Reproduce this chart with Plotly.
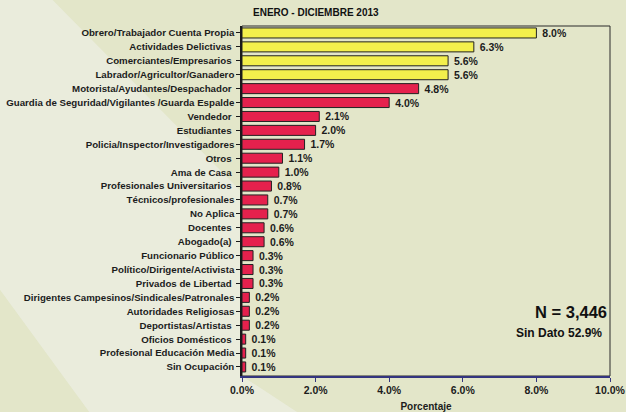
import plotly.graph_objects as go

# Ocupación de las víctimas, enero - diciembre 2013 (porcentaje)
categorias = [
    "Obrero/Trabajador Cuenta Propia",
    "Actividades Delictivas ",
    "Comerciantes/Empresarios ",
    "Labrador/Agricultor/Ganadero",
    "Motorista/Ayudantes/Despachador ",
    "Guardia de Seguridad/Vigilantes /Guarda Espalde",
    "Vendedor ",
    "Estudiantes ",
    "Policia/Inspector/Investigadores",
    "Otros ",
    "Ama de Casa ",
    "Profesionales Universitarios ",
    "Técnicos/profesionales",
    "No Aplica",
    "Docentes ",
    "Abogado(a) ",
    "Funcionario Público",
    "Político/Dirigente/Activista",
    "Privados de Libertad ",
    "Dirigentes Campesinos/Sindicales/Patronales",
    "Autoridades Religiosas",
    "Deportistas/Artistas ",
    "Oficios Domésticos ",
    "Profesional Educación Media",
    "Sin Ocupación",
]
porcentajes = [8.0, 6.3, 5.6, 5.6, 4.8, 4.0, 2.1, 2.0, 1.7, 1.1, 1.0, 0.8, 0.7,
               0.7, 0.6, 0.6, 0.3, 0.3, 0.3, 0.2, 0.2, 0.2, 0.1, 0.1, 0.1]
destacadas = 4  # las primeras categorías van en amarillo

x_ticks = [0, 2, 4, 6, 8, 10]
x_ticklabels = ["0.0%", "2.0%", "4.0%", "6.0%", "8.0%", "10.0%"]

AMARILLO = "#f3f04c"
ROJO = "#e5214d"
colores = [AMARILLO if i < destacadas else ROJO for i in range(len(categorias))]
posiciones = list(range(len(categorias)))

FONT = "Liberation Sans, Arial, sans-serif"

fig = go.Figure()
fig.add_trace(go.Bar(
    x=porcentajes,
    y=posiciones,
    orientation="h",
    width=0.72,
    marker=dict(color=colores, line=dict(color="#222222", width=1)),
    text=[f"\u00a0{v:.1f}%" for v in porcentajes],
    textposition="outside",
    constraintext="none",
    textfont=dict(family=FONT, size=10.5, color="#1c1c1c", weight="bold"),
    cliponaxis=False,
    hoverinfo="skip",
))

# zona clara diagonal del fondo, a la izquierda
fig.add_shape(type="path", xref="paper", yref="paper",
              path=("M -0.66,1.08 L -0.52,1.08 L -0.005,0.53 L 0,0 "
                    "L 0.16,-0.11 L -0.41,-0.11 L -0.66,0.25 Z"),
              fillcolor="rgba(238,240,233,0.6)", line=dict(width=0), layer="below")
# marco del área de trazado
fig.add_shape(type="rect", xref="x domain", yref="y domain", x0=0, x1=1, y0=0, y1=1,
              line=dict(color="#2a2a2a", width=1), layer="below")

fig.add_annotation(text="<b>ENERO - DICIEMBRE 2013</b>", xref="paper", yref="paper",
                   x=0.2, y=1.0, yshift=14, xanchor="center", yanchor="middle",
                   showarrow=False, font=dict(family=FONT, size=10, color="#111111"))
fig.add_annotation(text="<b>N = 3,446</b>", xref="x domain", yref="paper",
                   x=0.997, y=0.183, xanchor="right", yanchor="middle",
                   showarrow=False, font=dict(family=FONT, size=16.5, color="#111111"))
fig.add_annotation(text="<b>Sin Dato 52.9%</b>", xref="x domain", yref="paper",
                   x=0.985, y=0.124, xanchor="right", yanchor="middle",
                   showarrow=False, font=dict(family=FONT, size=12, color="#111111"))

fig.update_layout(
    width=626, height=412,
    margin=dict(l=242, r=16, t=26, b=36),
    paper_bgcolor="#e3e6c9",
    plot_bgcolor="rgba(0,0,0,0)",
    showlegend=False,
    font=dict(family=FONT, color="#111111"),
)
fig.update_xaxes(
    range=[0, 10], tickvals=x_ticks, ticktext=x_ticklabels,
    automargin=False,
    showgrid=False, zeroline=False,
    showline=True, linecolor="#34357f", linewidth=1.5,
    ticks="outside", ticklen=4, tickcolor="#34357f", tickwidth=1.2,
    tickfont=dict(family=FONT, size=10.5, color="#1c1c1c", weight="bold"),
    title=dict(text="<b>Porcentaje</b>", standoff=10,
               font=dict(family=FONT, size=10, color="#1c1c1c")),
)
fig.update_yaxes(
    range=[len(categorias) - 0.35, -0.5],
    tickvals=posiciones, ticktext=categorias,
    automargin=False,
    showgrid=False, zeroline=False,
    showline=True, linecolor="#1a1a1a", linewidth=1.5,
    ticks="outside", ticklen=4, tickcolor="#1a1a1a", tickwidth=1.2,
    tickfont=dict(family=FONT, size=9.7, color="#1c1c1c", weight="bold"),
)

fig.write_html("out.html")
